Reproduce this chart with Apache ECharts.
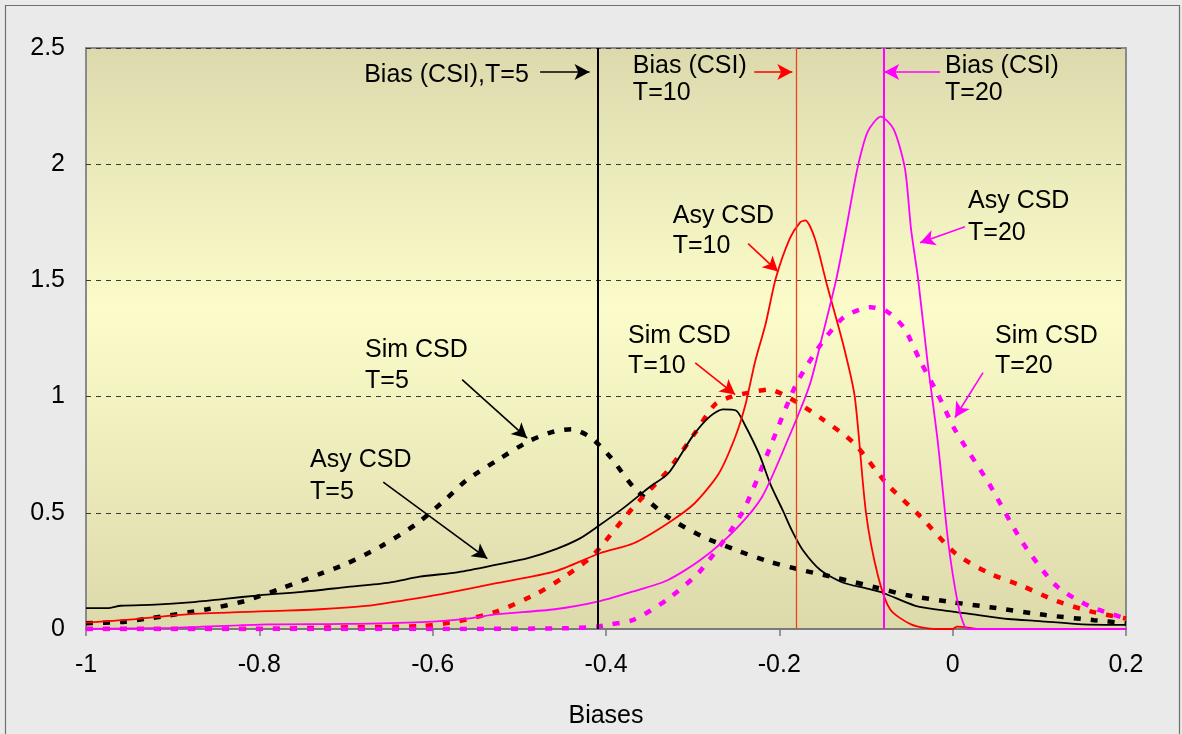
<!DOCTYPE html>
<html>
<head>
<meta charset="utf-8">
<script src="https://cdn.jsdelivr.net/npm/echarts@6/dist/echarts.min.js"></script>
<style>
  html, body { margin: 0; padding: 0; background: #eaeaea; }
  #chart { width: 1182px; height: 734px; }
</style>
</head>
<body>
<div id="chart"></div>
<script>
// Density curves of the biases: asymptotic (Asy) and simulated (Sim) CSD for T = 5, 10, 20
const asyT5 = [
  [-1, 0.09], [-0.975, 0.09], [-0.96, 0.1], [-0.92, 0.105], [-0.88, 0.115], [-0.84, 0.13],
  [-0.8, 0.145], [-0.75, 0.16], [-0.7, 0.18], [-0.65, 0.2], [-0.615, 0.225], [-0.57, 0.245],
  [-0.526, 0.277], [-0.49, 0.305], [-0.457, 0.345], [-0.43, 0.39], [-0.41, 0.44], [-0.38, 0.52],
  [-0.35, 0.61], [-0.328, 0.67], [-0.3, 0.83], [-0.28, 0.915], [-0.265, 0.945], [-0.25, 0.94],
  [-0.24, 0.88], [-0.223, 0.75], [-0.21, 0.62], [-0.196, 0.51], [-0.185, 0.42], [-0.173, 0.34],
  [-0.153, 0.255], [-0.127, 0.2], [-0.1, 0.175], [-0.08, 0.155], [-0.043, 0.1], [0, 0.075],
  [0.022, 0.064], [0.064, 0.043], [0.1, 0.034], [0.15, 0.02], [0.2, 0.018]
];
const simT5 = [
  [-1, 0.025], [-0.96, 0.03], [-0.923, 0.048], [-0.86, 0.085], [-0.817, 0.12], [-0.773, 0.177],
  [-0.73, 0.237], [-0.7, 0.28], [-0.66, 0.355], [-0.618, 0.454], [-0.584, 0.561], [-0.561, 0.64],
  [-0.526, 0.725], [-0.488, 0.81], [-0.46, 0.85], [-0.44, 0.86], [-0.418, 0.825], [-0.395, 0.74],
  [-0.368, 0.61], [-0.329, 0.483], [-0.29, 0.4], [-0.25, 0.34], [-0.212, 0.29], [-0.17, 0.25],
  [-0.134, 0.22], [-0.09, 0.18], [-0.052, 0.145], [0, 0.115], [0.043, 0.094], [0.107, 0.06],
  [0.163, 0.038], [0.2, 0.025]
];
const asyT10 = [
  [-1, 0.027], [-0.95, 0.04], [-0.88, 0.064], [-0.79, 0.077], [-0.73, 0.085], [-0.68, 0.098],
  [-0.63, 0.125], [-0.59, 0.15], [-0.525, 0.198], [-0.459, 0.248], [-0.407, 0.326], [-0.368, 0.369],
  [-0.329, 0.454], [-0.298, 0.54], [-0.27, 0.668], [-0.251, 0.825], [-0.239, 0.967], [-0.228, 1.15],
  [-0.216, 1.31], [-0.204, 1.51], [-0.188, 1.68], [-0.176, 1.75], [-0.17, 1.758], [-0.159, 1.68],
  [-0.145, 1.48], [-0.126, 1.22], [-0.113, 1.0], [-0.1, 0.5], [-0.086, 0.226], [-0.072, 0.084],
  [-0.048, 0.02], [-0.02, 0], [0, 0], [0.005, 0.01], [0.02, 0.005], [0.03, 0], [0.2, 0]
];
const simT10 = [
  [-1, 0], [-0.8, 0], [-0.72, 0.006], [-0.613, 0.013], [-0.57, 0.034], [-0.525, 0.077],
  [-0.481, 0.15], [-0.45, 0.22], [-0.42, 0.3], [-0.407, 0.35], [-0.368, 0.526], [-0.329, 0.68],
  [-0.298, 0.84], [-0.274, 0.967], [-0.255, 1.0], [-0.235, 1.017], [-0.212, 1.03], [-0.189, 0.996],
  [-0.153, 0.91], [-0.114, 0.8], [-0.076, 0.625], [-0.037, 0.483], [0.003, 0.326], [0.042, 0.24],
  [0.081, 0.184], [0.12, 0.12], [0.158, 0.077], [0.2, 0.045]
];
const asyT20 = [
  [-1, 0], [-0.9, 0.005], [-0.79, 0.02], [-0.7, 0.022], [-0.613, 0.03], [-0.56, 0.045],
  [-0.525, 0.064], [-0.459, 0.085], [-0.407, 0.12], [-0.368, 0.162], [-0.329, 0.21], [-0.29, 0.3],
  [-0.251, 0.427], [-0.22, 0.568], [-0.189, 0.825], [-0.165, 1.05], [-0.15, 1.266], [-0.134, 1.51],
  [-0.123, 1.72], [-0.11, 1.98], [-0.098, 2.14], [-0.083, 2.205], [-0.068, 2.15], [-0.055, 1.98],
  [-0.048, 1.72], [-0.04, 1.51], [-0.029, 1.15], [-0.017, 0.8], [-0.005, 0.37], [0.006, 0.11],
  [0.014, 0.01], [0.02, 0], [0.2, 0]
];
const simT20 = [
  [-1, 0], [-0.6, 0], [-0.45, 0.003], [-0.41, 0.01], [-0.395, 0.02], [-0.368, 0.04],
  [-0.329, 0.128], [-0.29, 0.255], [-0.243, 0.5], [-0.212, 0.77], [-0.181, 1.05], [-0.153, 1.22],
  [-0.126, 1.34], [-0.095, 1.385], [-0.076, 1.367], [-0.056, 1.295], [-0.037, 1.15], [-0.017, 1.01],
  [0.003, 0.855], [0.042, 0.625], [0.081, 0.37], [0.12, 0.184], [0.158, 0.098], [0.2, 0.045]
];

// Bias of the CSI estimator for each T (vertical reference lines)
const biasCSI = [-0.414, -0.182, -0.082];

// Axis ranges and ticks
const xTicks = [-1, -0.8, -0.6, -0.4, -0.2, 0, 0.2];
const yTicks = [0, 0.5, 1, 1.5, 2, 2.5];

// Annotation texts: [text, x, y] in data units (x = left edge, y = line centre)
const notes = [
  ['Bias (CSI),T=5', -0.679, 2.385],
  ['Bias (CSI)', -0.369, 2.42], ['T=10', -0.369, 2.305],
  ['Bias (CSI)', -0.0088, 2.42], ['T=20', -0.0088, 2.305],
  ['Asy CSD', -0.323, 1.775], ['T=10', -0.323, 1.647],
  ['Asy CSD', 0.0177, 1.843], ['T=20', 0.0177, 1.702],
  ['Sim CSD', -0.3746, 1.262], ['T=10', -0.3746, 1.13],
  ['Sim CSD', 0.0488, 1.262], ['T=20', 0.0488, 1.13],
  ['Sim CSD', -0.678, 1.199], ['T=5', -0.678, 1.068],
  ['Asy CSD', -0.7415, 0.728], ['T=5', -0.7415, 0.59]
];

// Pointer arrows: [x1, y1, x2, y2] in data units, tip at (x2, y2)
const arrowsBlack = [
  [-0.476, 2.397, -0.419, 2.397],
  [-0.566, 1.073, -0.491, 0.821],
  [-0.657, 0.632, -0.537, 0.303]
];
const arrowsRed = [
  [-0.229, 2.397, -0.185, 2.397],
  [-0.236, 1.658, -0.2015, 1.538],
  [-0.297, 1.145, -0.251, 1.009]
];
const arrowsMagenta = [
  [-0.0146, 2.397, -0.079, 2.397],
  [0.0142, 1.731, -0.0377, 1.662],
  [0.035, 1.103, 0.0027, 0.91]
];

const FONT = 'Liberation Sans, Arial, sans-serif';
const BLACK = '#000000', RED = '#ff0000', MAGENTA = '#ff00ff';

// Arrow pointers drawn as mark lines with an arrow head at the end point
function arrowMarks(list, color) {
  return {
    silent: true,
    animation: false,
    symbol: ['none', 'arrow'],
    symbolSize: [12, 15],
    label: { show: false },
    emphasis: { disabled: true },
    lineStyle: { color: color, width: 1.6, type: 'solid' },
    data: list.map(a => [{ coord: [a[0], a[1]] }, { coord: [a[2], a[3]] }])
  };
}

// Vertical line at the CSI bias
function biasMark(value, color, width) {
  return {
    silent: true,
    animation: false,
    symbol: 'none',
    label: { show: false },
    emphasis: { disabled: true },
    lineStyle: { color: color, width: width, type: 'solid' },
    data: [{ xAxis: value }]
  };
}

function curve(name, data, color, dashed, marks) {
  const s = {
    name: name,
    type: 'line',
    data: data,
    showSymbol: false,
    smooth: 0.25,
    silent: true,
    lineStyle: dashed
      ? { color: color, width: 4.5, type: [7, 10], cap: 'butt' }
      : { color: color, width: 1.8, type: 'solid' },
    emphasis: { disabled: true }
  };
  if (marks) s.markLine = marks;
  return s;
}

const chart = echarts.init(document.getElementById('chart'), null, { renderer: 'canvas' });

const option = {
  animation: false,
  backgroundColor: '#eaeaea',
  grid: {
    left: 86, right: 56, top: 48, bottom: 101,
    show: true,
    borderColor: '#8a8a8a',
    borderWidth: 2,
    backgroundColor: new echarts.graphic.LinearGradient(0, 0, 0, 1, [
      { offset: 0, color: '#dcdaad' },
      { offset: 0.45, color: '#fcfcca' },
      { offset: 1, color: '#dcd9aa' }
    ])
  },
  xAxis: {
    type: 'value',
    min: xTicks[0], max: xTicks[xTicks.length - 1], interval: 0.2,
    name: 'Biases',
    nameLocation: 'middle',
    nameGap: 75,
    nameTextStyle: { fontFamily: FONT, fontSize: 25, color: '#000' },
    axisLine: { show: true, onZero: false, lineStyle: { color: '#7a7a7a', width: 2 } },
    axisTick: { show: true, inside: false, length: 7, lineStyle: { color: '#7a7a7a', width: 1.5 } },
    axisLabel: {
      fontFamily: FONT, fontSize: 25, color: '#000', margin: 24,
      formatter: v => String(+v.toFixed(1))
    },
    splitLine: { show: false }
  },
  yAxis: {
    type: 'value',
    min: yTicks[0], max: yTicks[yTicks.length - 1], interval: 0.5,
    axisLine: { show: false },
    axisTick: { show: false },
    axisLabel: {
      fontFamily: FONT, fontSize: 25, color: '#000', margin: 21,
      padding: [7, 0, 0, 0],
      formatter: v => String(+v.toFixed(1))
    },
    splitLine: { show: true, lineStyle: { color: '#3a3a3a', width: 1, type: [5, 5] } }
  },
  series: [
    curve('Sim CSD T=5', simT5, BLACK, true, biasMark(biasCSI[0], BLACK, 2)),
    curve('Sim CSD T=10', simT10, RED, true, biasMark(biasCSI[1], '#e8451f', 1.3)),
    curve('Sim CSD T=20', simT20, MAGENTA, true, biasMark(biasCSI[2], MAGENTA, 2)),
    curve('Asy CSD T=5', asyT5, BLACK, false, arrowMarks(arrowsBlack, BLACK)),
    curve('Asy CSD T=10', asyT10, RED, false, arrowMarks(arrowsRed, RED)),
    curve('Asy CSD T=20', asyT20, MAGENTA, false, arrowMarks(arrowsMagenta, MAGENTA))
  ]
};

chart.setOption(option);

// Place the annotation texts from data coordinates, plus the outer frame
const graphics = [{
  type: 'rect',
  z: 100,
  silent: true,
  shape: { x: 5.5, y: 5.5, width: 1174, height: 740 },
  style: { fill: 'none', stroke: '#6f6f6f', lineWidth: 1.2 }
}];
notes.forEach(n => {
  const p = chart.convertToPixel({ gridIndex: 0 }, [n[1], n[2]]);
  graphics.push({
    type: 'text',
    x: p[0], y: p[1],
    z: 100,
    silent: true,
    style: {
      text: n[0],
      fontFamily: FONT,
      fontSize: 25,
      fill: '#000',
      align: 'left',
      verticalAlign: 'middle'
    }
  });
});
chart.setOption({ graphic: graphics });
</script>
</body>
</html>
